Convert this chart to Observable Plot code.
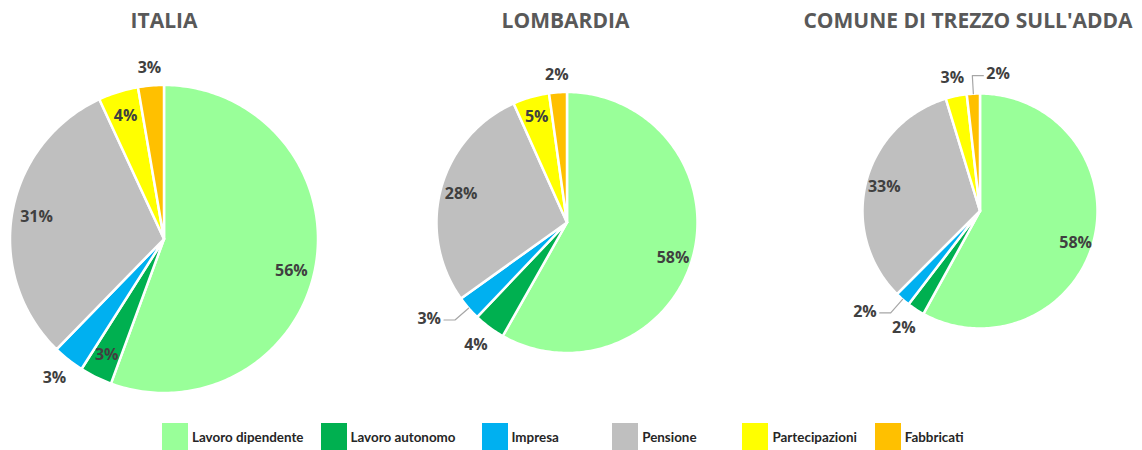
<!DOCTYPE html>
<html>
<head>
<meta charset="utf-8">
<script src="https://cdn.jsdelivr.net/npm/d3@7"></script>
<script src="https://cdn.jsdelivr.net/npm/@observablehq/plot@0.6"></script>
<style>
  body { margin: 0; background: #fff; }
  #chart { width: 1142px; }
  .lg-swatches { font-family: Lato, "Open Sans", sans-serif !important; font-size: 13.4px !important; font-weight: bold; color: #262626; margin-top: 5px; margin-bottom: 0 !important; }
  .lg-swatch { box-sizing: border-box; margin-right: 0 !important; }
  .lg-swatch:nth-of-type(1) { width: 158.5px; }
  .lg-swatch:nth-of-type(2) { width: 161px; }
  .lg-swatch:nth-of-type(3) { width: 130.7px; }
  .lg-swatch:nth-of-type(4) { width: 130.3px; }
  .lg-swatch:nth-of-type(5) { width: 132.3px; }
  .lg-swatch > svg { margin-right: 4px !important; }
</style>
</head>
<body>
<div id="chart"></div>
<script>
// ---------- data ----------
const categories = ["Lavoro dipendente", "Lavoro autonomo", "Impresa", "Pensione", "Partecipazioni", "Fabbricati"];
const colors = ["#99ff99", "#00b050", "#00b0f0", "#bfbfbf", "#ffff00", "#ffc000"];
const areas = ["ITALIA", "LOMBARDIA", "COMUNE DI TREZZO SULL'ADDA"];
const italia = [55.6, 3.4, 3.3, 30.8, 4.2, 2.7];
const lombardia = [58.2, 3.9, 3.0, 28.2, 4.5, 2.2];
const trezzo = [58.0, 2.4, 2.1, 32.8, 2.9, 1.8];

// ---------- layout ----------
const W = 1142, H = 415;
const panels = [
  {name: areas[0], values: italia, cx: 163.5, cy: 238.5, r: 154, titleX: 163.5, titleY: 21,
   place: ["in", "in", "out", "in", "in", "out"]},
  {name: areas[1], values: lombardia, cx: 566.5, cy: 222, r: 130.5, titleX: 565, titleY: 21,
   place: ["in", "out", "leaderLeft", "in", "in", "out"]},
  {name: areas[2], values: trezzo, cx: 979.5, cy: 210.5, r: 117.5, titleX: 967.5, titleY: 21,
   place: ["in", "out", "leaderLeft", "in", "out", "leaderRight"]}
];

const slicePts = [], labels = [], leaderPts = [];
panels.forEach((p, pi) => {
  const arcs = d3.pie().sort(null).value(d => d)(p.values);
  arcs.forEach((a, i) => {
    const id = pi + "-" + i;
    const cat = categories[i];
    slicePts.push({id, cat, x: p.cx, y: p.cy});
    const n = Math.max(2, Math.ceil((a.endAngle - a.startAngle) / (Math.PI / 180)));
    for (let k = 0; k <= n; k++) {
      const t = a.startAngle + (a.endAngle - a.startAngle) * k / n;
      slicePts.push({id, cat, x: p.cx + p.r * Math.sin(t), y: p.cy - p.r * Math.cos(t)});
    }
    const mid = (a.startAngle + a.endAngle) / 2;
    const dx = Math.sin(mid), dy = -Math.cos(mid);
    const text = Math.round(p.values[i]) + "%";
    const mode = p.place[i];
    if (mode === "in") {
      // larger slices get their label a bit lower (Excel best-fit look)
      const rr = p.r * (p.values[i] > 50 ? 0.84 : 0.84);
      const extraY = p.values[i] > 50 ? p.r * 0.06 : 0;
      labels.push({x: p.cx + dx * rr, y: p.cy + dy * rr + extraY, text, anchor: "middle"});
    } else if (mode === "out") {
      const rr = p.r + 10 + Math.abs(dx) * 12 + Math.abs(dy) * 6.5;
      labels.push({x: p.cx + dx * rr, y: p.cy + dy * rr, text, anchor: "middle"});
    } else {
      const side = mode === "leaderLeft" ? -1 : 1;
      const x0 = p.cx + dx * p.r, y0 = p.cy + dy * p.r;
      const x1 = p.cx + dx * (p.r + 18), y1 = p.cy + dy * (p.r + 18);
      const x2 = x1 + side * 11;
      leaderPts.push({id, x: x0, y: y0}, {id, x: x1, y: y1}, {id, x: x2, y: y1});
      labels.push({x: x2 + side * 3, y: y1 - 1.5, text, anchor: side < 0 ? "end" : "start"});
    }
  });
});

const labelStyle = {fontSize: 16, fontWeight: "bold", fill: "#404040"};

const chart = Plot.plot({
  width: W,
  height: H,
  margin: 0,
  x: {domain: [0, W], range: [0, W], axis: null},
  y: {domain: [0, H], range: [0, H], axis: null},
  color: {domain: categories, range: colors},
  style: {fontFamily: "'Open Sans', sans-serif", background: "#fff"},
  marks: [
    Plot.line(slicePts, {x: "x", y: "y", z: "id", fill: "cat", stroke: "white", strokeWidth: 2.5,
      strokeLinejoin: "round", curve: "linear-closed"}),
    Plot.line(leaderPts, {x: "x", y: "y", z: "id", stroke: "#a6a6a6", strokeWidth: 1.2}),
    Plot.text(labels.filter(d => d.anchor === "middle"), {x: "x", y: "y", text: "text", textAnchor: "middle", ...labelStyle}),
    Plot.text(labels.filter(d => d.anchor === "end"), {x: "x", y: "y", text: "text", textAnchor: "end", ...labelStyle}),
    Plot.text(labels.filter(d => d.anchor === "start"), {x: "x", y: "y", text: "text", textAnchor: "start", ...labelStyle}),
    Plot.text(panels, {x: "titleX", y: "titleY", text: "name", textAnchor: "middle", fontSize: 21,
      fontWeight: "bold", fill: "#595959"})
  ]
});

const legend = Plot.legend({
  color: {type: "ordinal", domain: categories, range: colors},
  className: "lg",
  swatchWidth: 26,
  swatchHeight: 27,
  marginLeft: 162
});

const root = document.getElementById("chart");
root.appendChild(chart);
root.appendChild(legend);
</script>
</body>
</html>
